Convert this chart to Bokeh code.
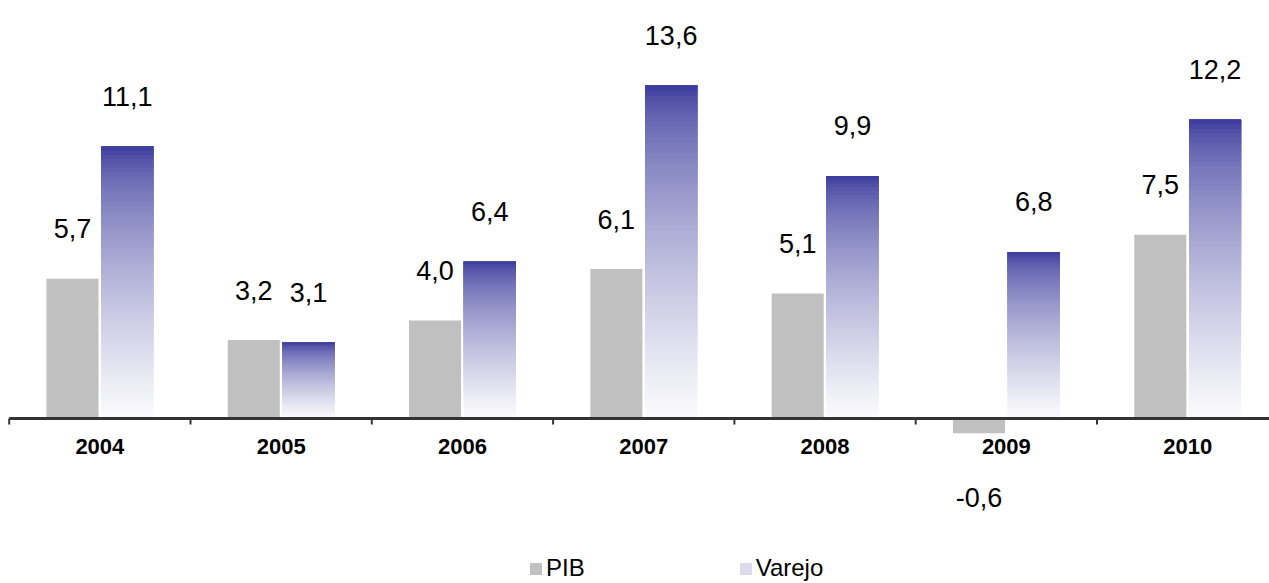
import numpy as np
from bokeh.plotting import figure
from bokeh.models import ColumnDataSource, Range1d, Legend, LegendItem
from bokeh.core.properties import value
from bokeh.embed import file_html
from bokeh.resources import INLINE

# ---- data ----
years = ["2004", "2005", "2006", "2007", "2008", "2009", "2010"]
pib = [5.7, 3.2, 4.0, 6.1, 5.1, -0.6, 7.5]
varejo = [11.1, 3.1, 6.4, 13.6, 9.9, 6.8, 12.2]
series_names = ["PIB", "Varejo"]


def fmt(v):
    return f"{v:.1f}".replace(".", ",")


# ---- layout / scale ----
W, H = 1269, 583
px_x = 181.3          # pixels per category
px_y = 24.5           # pixels per unit
x_start = -8.7 / px_x
y_top = 418 / px_y
FONT_NAME = "Liberation Sans"
FONT = value(FONT_NAME)

x_range = Range1d(x_start, x_start + W / px_x)
p = figure(width=W, height=H,
           x_range=x_range,
           y_range=Range1d(y_top - H / px_y, y_top),
           output_backend="svg", toolbar_location=None,
           x_axis_location=None, y_axis_location=None,
           min_border=0, outline_line_color=None,
           background_fill_color="white", border_fill_color="white")
p.grid.visible = False

n = len(years)
centers = np.arange(n) + 0.5
bw = 0.287
off = 0.151

# PIB bars
pib_src = ColumnDataSource(dict(left=centers - off - bw / 2, right=centers - off + bw / 2,
                                top=pib, bottom=[0] * n))
r_pib = p.quad(left="left", right="right", top="top", bottom="bottom", source=pib_src,
               fill_color="#C0C0C0", line_color=None)

# Varejo bars with vertical gradient (dark blue top -> white bottom)
top_rgb = np.array([51, 51, 153])
bot_rgb = np.array([252, 252, 253])
N = 64
L, R, B, T, C = [], [], [], [], []
for k in range(N):
    t = 1 - (k + 0.5) / N
    f = t ** 0.6
    rgb = top_rgb + (bot_rgb - top_rgb) * f
    col = "#%02x%02x%02x" % tuple(int(round(c)) for c in rgb)
    for i, v in enumerate(varejo):
        L.append(centers[i] + off - bw / 2)
        R.append(centers[i] + off + bw / 2)
        B.append(v * k / N)
        T.append(v)
        C.append(col)
r_var = p.quad(left=L, right=R, bottom=B, top=T, fill_color=C, line_color=None)

# axis line and ticks
bounds = np.arange(n + 1)
p.segment(x0=[bounds[0]], y0=[0], x1=[x_range.end], y1=[0],
          line_color="#333333", line_width=3)
p.segment(x0=bounds, y0=[0] * (n + 1), x1=bounds, y1=[-6 / px_y] * (n + 1),
          line_color="#333333", line_width=2)

# category labels
p.text(x=centers, y=[0] * n, text=years, y_offset=28,
       text_align="center", text_baseline="middle",
       text_font=FONT, text_font_size="22px", text_font_style="bold", text_color="black")

# value labels
lab_x = list(centers - off) + list(centers + off)
lab_y = pib + varejo
lab_t = [fmt(v) for v in lab_y]
lab_off = [-50 if v >= 0 else 64 for v in lab_y]
p.text(x=lab_x, y=lab_y, text=lab_t, y_offset=lab_off,
       text_align="center", text_baseline="middle",
       text_font=FONT, text_font_size="27px", text_color="black")

# legend (Varejo swatch uses a pale row of the gradient)
legend = Legend(items=[LegendItem(label=value(series_names[0]), renderers=[r_pib], index=0),
                       LegendItem(label=value(series_names[1]), renderers=[r_var],
                                  index=(N // 4) * n)],
                orientation="horizontal", location=(528, 1),
                padding=0, margin=0, spacing=153, label_standoff=3,
                glyph_width=15, glyph_height=15,
                label_text_font=FONT_NAME, label_text_font_size="24px",
                label_text_color="black",
                border_line_color=None, background_fill_alpha=0)
p.add_layout(legend, "center")

open("out.html", "w").write(file_html(p, INLINE))
